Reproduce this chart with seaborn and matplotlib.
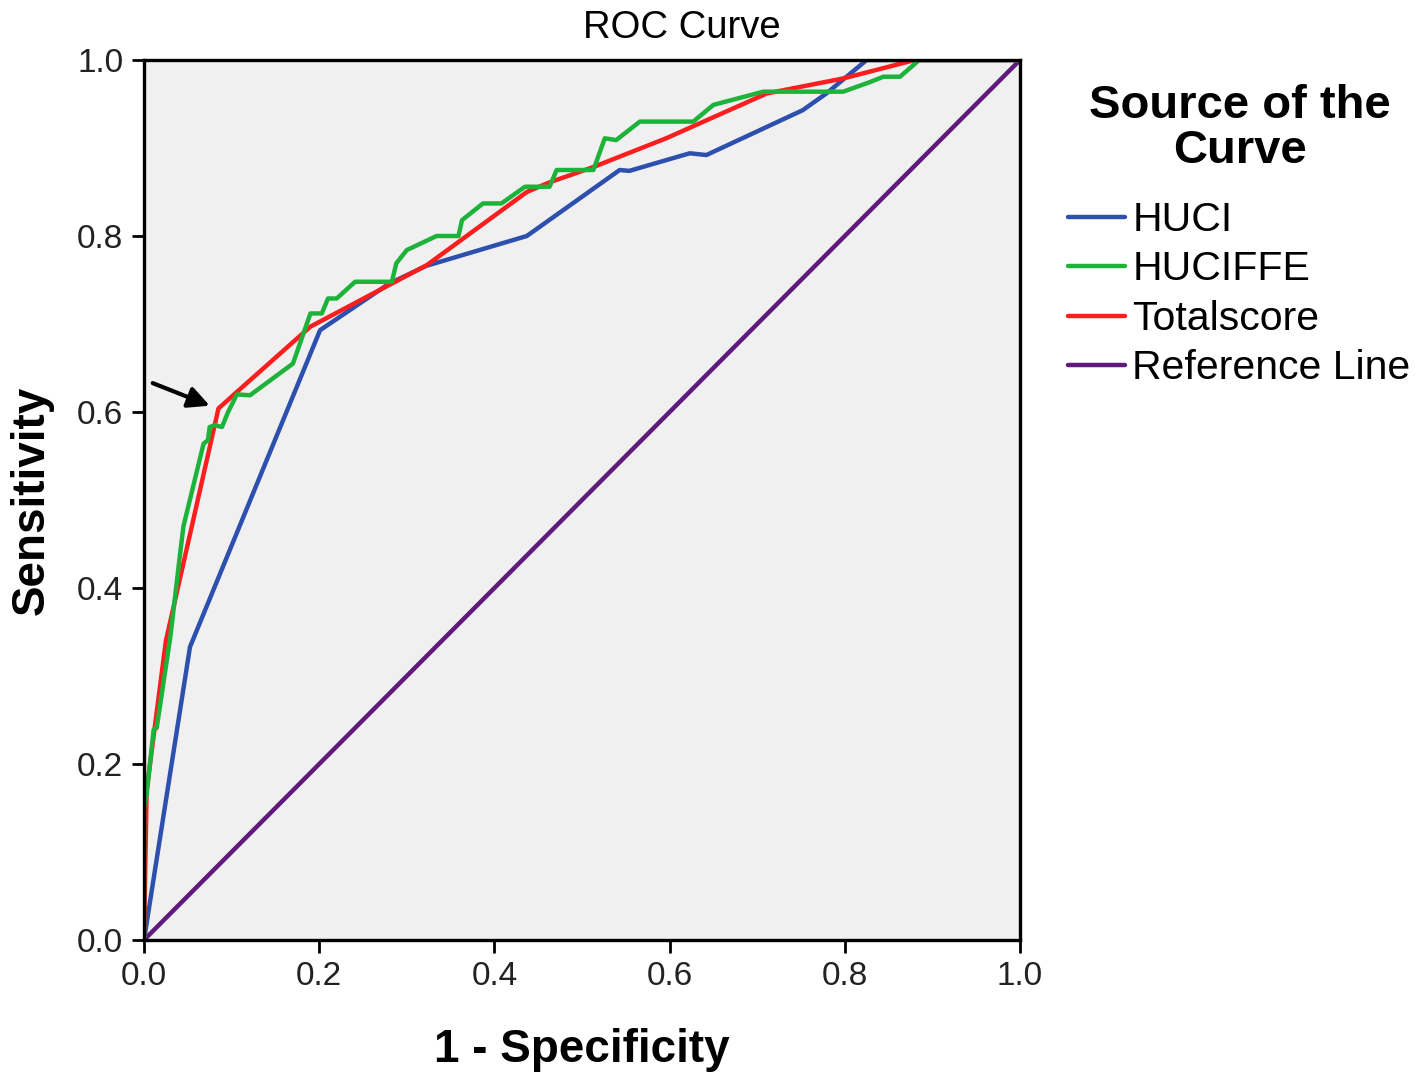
import matplotlib
matplotlib.use("Agg")
import matplotlib.pyplot as plt
from matplotlib.lines import Line2D
import seaborn as sns
import pandas as pd

# ---- data ----
huci_x = [0, 0.0525, 0.201, 0.280, 0.322, 0.437, 0.543, 0.554, 0.623, 0.642, 0.752, 0.779, 0.825, 1.0]
huci_y = [0, 0.333, 0.693, 0.746, 0.766, 0.800, 0.875, 0.874, 0.894, 0.892, 0.943, 0.962, 1.0, 1.0]

total_x = [0, 0.003, 0.025, 0.085, 0.104, 0.190, 0.283, 0.323, 0.437, 0.463, 0.512, 0.596, 0.711, 0.798, 0.880, 1.0]
total_y = [0, 0.170, 0.340, 0.604, 0.621, 0.697, 0.746, 0.767, 0.850, 0.861, 0.878, 0.911, 0.962, 0.979, 1.0, 1.0]

huciffe_x = [0, 0, 0.003, 0.011, 0.0145, 0.030, 0.041, 0.045, 0.068, 0.073, 0.075, 0.081, 0.089, 0.096,
             0.106, 0.121, 0.170, 0.190, 0.203, 0.210, 0.220, 0.241, 0.283, 0.288, 0.300, 0.334, 0.359,
             0.363, 0.387, 0.408, 0.435, 0.463, 0.471, 0.513, 0.526, 0.539, 0.566, 0.627, 0.650, 0.707,
             0.798, 0.829, 0.844, 0.863, 0.885, 1.0]
huciffe_y = [0, 0.150, 0.165, 0.239, 0.241, 0.344, 0.437, 0.470, 0.564, 0.568, 0.583, 0.585, 0.583, 0.600,
             0.620, 0.619, 0.655, 0.712, 0.712, 0.729, 0.729, 0.748, 0.748, 0.769, 0.784, 0.800, 0.800,
             0.818, 0.837, 0.837, 0.856, 0.856, 0.875, 0.875, 0.911, 0.909, 0.930, 0.930, 0.949, 0.964,
             0.964, 0.975, 0.981, 0.981, 1.0, 1.0]

ref_x = [0, 1]
ref_y = [0, 1]

series_names = ["HUCI", "HUCIFFE", "Totalscore", "Reference Line"]
series_colors = ["#2d4fae", "#1db33a", "#fa1e1e", "#5f1a7c"]
tick_vals = [0.0, 0.2, 0.4, 0.6, 0.8, 1.0]
tick_labels = ["0.0", "0.2", "0.4", "0.6", "0.8", "1.0"]
legend_title_lines = ["Source of the", "Curve"]

frames = []
for name, xs, ys in [("HUCI", huci_x, huci_y), ("HUCIFFE", huciffe_x, huciffe_y),
                     ("Totalscore", total_x, total_y), ("Reference Line", ref_x, ref_y)]:
    frames.append(pd.DataFrame({"x": xs, "y": ys, "src": name}))
df = pd.concat(frames, ignore_index=True)

sns.set_theme(style="white")
plt.rcParams["font.family"] = ["Liberation Sans", "DejaVu Sans"]
plt.rcParams["text.color"] = "black"
plt.rcParams["axes.labelcolor"] = "black"

fig = plt.figure(figsize=(14.17, 10.79), dpi=100)
ax = fig.add_axes([144 / 1417, 1 - 940 / 1079, (1020 - 144) / 1417, (940 - 60) / 1079])
ax.set_facecolor("#f0f0f0")

palette = dict(zip(series_names, series_colors))
for name in ["Reference Line", "HUCI", "Totalscore", "HUCIFFE"]:
    sub = df[df["src"] == name]
    sns.lineplot(data=sub, x="x", y="y", color=palette[name], sort=False, estimator=None,
                 lw=3.2, ax=ax, legend=False)

ax.set_xlim(0, 1)
ax.set_ylim(0, 1)
ax.set_xticks(tick_vals)
ax.set_xticklabels(tick_labels)
ax.set_yticks(tick_vals)
ax.set_yticklabels(tick_labels)
ax.tick_params(axis="both", which="major", direction="out", length=9, width=2,
               color="black", labelsize=24, labelcolor="#222222", pad=6,
               bottom=True, left=True)
for s in ax.spines.values():
    s.set_color("black")
    s.set_linewidth(2.4)

ax.set_xlabel("1 - Specificity", fontsize=33, fontweight="bold", labelpad=26, color="black")
ax.set_ylabel("Sensitivity", fontsize=33, fontweight="bold", labelpad=17, color="black")
fig.text(682 / 1417, 1 - 28 / 1079, "ROC Curve", fontsize=27.5, ha="center", va="center", color="black")

ax.annotate("", xy=(0.078, 0.606), xytext=(0.007, 0.634),
            arrowprops=dict(arrowstyle="-|>", lw=3, color="black", mutation_scale=32))

# legend title (two centred lines)
fig.text(1240 / 1417, 1 - 106 / 1079, legend_title_lines[0], fontsize=34, fontweight="bold",
         ha="center", va="center", color="black")
fig.text(1240 / 1417, 1 - 151 / 1079, legend_title_lines[1], fontsize=34, fontweight="bold",
         ha="center", va="center", color="black")

handles = [Line2D([0], [0], color=c, lw=3.2) for c in series_colors]
leg = ax.legend(handles, series_names, loc="upper left",
                bbox_to_anchor=(1068 / 1417, 1 - 201 / 1079), bbox_transform=fig.transFigure,
                frameon=False, fontsize=29.5,
                handlelength=1.38, handletextpad=0.19, labelspacing=0.28,
                borderpad=0, borderaxespad=0)
for t in leg.get_texts():
    t.set_color("black")

fig.savefig("out.png", dpi=100)
